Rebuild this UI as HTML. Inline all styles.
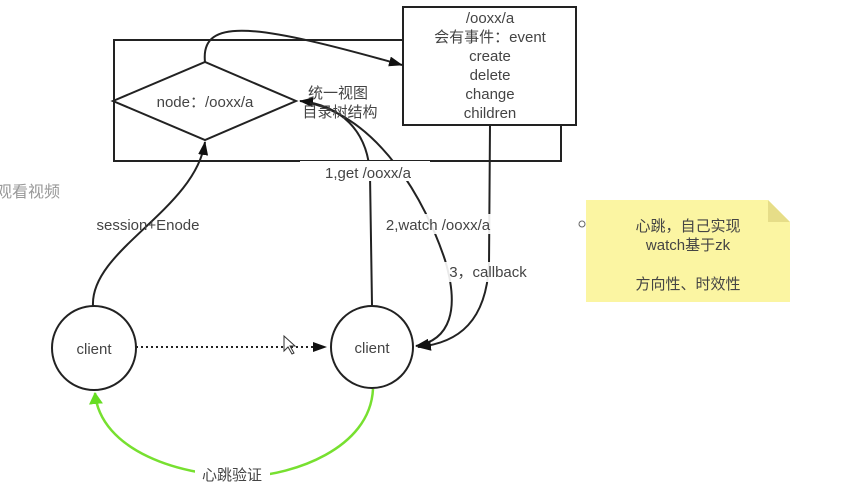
<!DOCTYPE html>
<html><head><meta charset="utf-8"><style>
body{margin:0;background:#fff;width:844px;height:489px;overflow:hidden}
text{font-family:"Liberation Sans","Noto Sans CJK SC",sans-serif;fill:#444}
</style></head><body>
<svg width="844" height="489" viewBox="0 0 844 489" xmlns="http://www.w3.org/2000/svg">
<defs>
<marker id="a" markerWidth="14" markerHeight="10" refX="13" refY="5" orient="auto" markerUnits="userSpaceOnUse"><path d="M0,0 L14,5 L0,10 Z" fill="#111"/></marker>
<marker id="g" markerWidth="12" markerHeight="14" refX="11" refY="7" orient="auto" markerUnits="userSpaceOnUse"><path d="M0,0 L12,7 L0,14 Z" fill="#66dd22"/></marker>
</defs>
<g fill="none" stroke="#222" stroke-width="2">
<rect x="114" y="40" width="447" height="121"/>
<polygon points="113,101 205,62 296,101 205,140" fill="#fff"/>
<rect x="403" y="7" width="173" height="118" fill="#fff"/>
<path d="M205,62 C200,15 260,25 402,65" marker-end="url(#a)"/>
<path d="M93,306 C90,250 195,210 205,142" marker-end="url(#a)"/>
<path d="M372,305 L370,175 C368,130 340,105 300,101" marker-end="url(#a)"/>
<path d="M310,103 C380,120 425,200 445,260 C460,310 450,340 416,346" marker-end="url(#a)"/>
<path d="M490,125 L489,265 C486,320 460,343 418,347" marker-end="url(#a)"/>
<path d="M136,347 L326,347" stroke-dasharray="2,3" marker-end="url(#a)"/>
<circle cx="94" cy="348" r="42" fill="#fff"/>
<circle cx="372" cy="347" r="41" fill="#fff"/>
</g>
<path d="M373,389 C370,450 290,475 250,476 C180,478 100,450 95,393" fill="none" stroke="#77e030" stroke-width="2.5" marker-end="url(#g)"/>
<rect x="300" y="161" width="130" height="20" fill="#fff"/>
<rect x="375" y="214" width="122" height="20" fill="#fff" opacity="0.9"/>
<rect x="440" y="262" width="95" height="20" fill="#fff" opacity="0.9"/>
<rect x="195" y="464" width="75" height="20" fill="#fff"/>
<path d="M586,200 L768,200 L790,222 L790,302 L586,302 Z" fill="#fbf5a2"/>
<path d="M768,200 L790,222 L768,222 Z" fill="#e6dd88"/>
<circle cx="582" cy="224" r="3" fill="none" stroke="#666" stroke-width="1"/>
<g font-size="15" text-anchor="middle">
<text x="490" y="23">/ooxx/a</text>
<text x="490" y="42">会有事件：event</text>
<text x="490" y="61">create</text>
<text x="490" y="80">delete</text>
<text x="490" y="99">change</text>
<text x="490" y="118">children</text>
<text x="205" y="107">node：/ooxx/a</text>
<text x="338" y="98">统一视图</text>
<text x="340" y="117">目录树结构</text>
<text x="368" y="178">1,get /ooxx/a</text>
<text x="148" y="230">session+Enode</text>
<text x="438" y="230">2,watch /ooxx/a</text>
<text x="488" y="277">3，callback</text>
<text x="94" y="354">client</text>
<text x="372" y="353">client</text>
<text x="232" y="480">心跳验证</text>
<text x="688" y="231">心跳，自己实现</text>
<text x="688" y="250">watch基于zk</text>
<text x="688" y="289">方向性、时效性</text>
</g>
<text x="-4" y="197" font-size="16" style="fill:#999">观看视频</text>
<path d="M284,336 L284,351 L288,347 L292,354 L294,353 L290,346 L295,346 Z" fill="#fff" stroke="#333" stroke-width="1"/>
</svg>
</body></html>
